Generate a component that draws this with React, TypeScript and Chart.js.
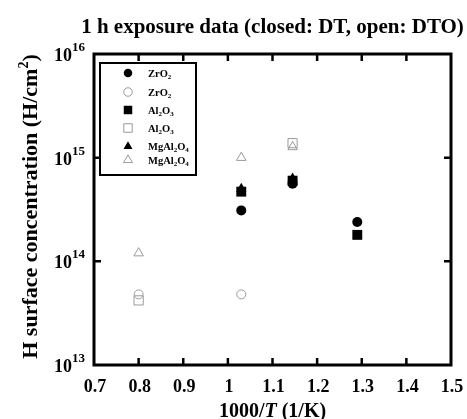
import React, { useEffect, useRef } from 'react';
import { Chart, registerables } from 'chart.js';

Chart.register(...registerables);

// ---- data ----
const legendLabels = ['ZrO2', 'ZrO2', 'Al2O3', 'Al2O3', 'MgAl2O4', 'MgAl2O4'];
const zrDT_x = [1.03, 1.145, 1.29];
const zrDT_y = [3.1e14, 5.6e14, 2.4e14];
const zrDTO_x = [0.8, 1.03];
const zrDTO_y = [4.8e13, 4.8e13];
const alDT_x = [1.03, 1.145, 1.29];
const alDT_y = [4.7e14, 6.0e14, 1.8e14];
const alDTO_x = [0.8, 1.145];
const alDTO_y = [4.2e13, 1.38e15];
const mgDT_x = [1.03, 1.145];
const mgDT_y = [5.0e14, 6.3e14];
const mgDTO_x = [0.8, 1.03, 1.145];
const mgDTO_y = [1.2e14, 1.0e15, 1.27e15];

const xTickValues = [0.7, 0.8, 0.9, 1.0, 1.1, 1.2, 1.3, 1.4, 1.5];
const xTickLabels = ['0.7', '0.8', '0.9', '1', '1.1', '1.2', '1.3', '1.4', '1.5'];
const yTickValues = [1e13, 1e14, 1e15, 1e16];
const yTickExps = ['13', '14', '15', '16'];

const titleText = '1 h exposure data (closed: DT, open: DTO)';

const SERIF = '"Liberation Serif", "Times New Roman", serif';
const OPEN = '#9a9a9a';

function pts(xs: number[], ys: number[]) {
  return xs.map((x, i) => ({ x, y: ys[i] }));
}

function splitSub(label: string) {
  const parts: [string, boolean][] = [];
  const re = /(\d+)|(\D+)/g;
  let m: RegExpExecArray | null;
  while ((m = re.exec(label))) {
    if (m[1]) parts.push([m[1], true]);
    else parts.push([m[2], false]);
  }
  return parts;
}

function drawMarker(ctx: CanvasRenderingContext2D, style: string, x: number, y: number, s: number, filled: boolean) {
  ctx.save();
  ctx.beginPath();
  if (style === 'circle') {
    ctx.arc(x, y, s / 2, 0, Math.PI * 2);
  } else if (style === 'rect') {
    ctx.rect(x - s / 2, y - s / 2, s, s);
  } else {
    const h = s * 0.866;
    ctx.moveTo(x, y - h * 0.6);
    ctx.lineTo(x + s / 2, y + h * 0.4);
    ctx.lineTo(x - s / 2, y + h * 0.4);
    ctx.closePath();
  }
  if (filled) {
    ctx.fillStyle = '#000';
    ctx.fill();
  } else {
    ctx.strokeStyle = OPEN;
    ctx.lineWidth = 1;
    ctx.stroke();
  }
  ctx.restore();
}

const framePlugin = {
  id: 'framePlugin',
  afterDraw(chart: any) {
    const ctx: CanvasRenderingContext2D = chart.ctx;
    const { left, right, top, bottom } = chart.chartArea;
    const xs = chart.scales.x;
    const ys = chart.scales.y;
    ctx.save();
    ctx.strokeStyle = '#000';
    ctx.fillStyle = '#000';

    // frame
    ctx.lineWidth = 3;
    ctx.strokeRect(left, top, right - left, bottom - top);

    // ticks
    ctx.lineWidth = 2.5;
    const tl = 7;
    xTickValues.forEach((v) => {
      const px = xs.getPixelForValue(v);
      if (Math.abs(px - left) < 2 || Math.abs(px - right) < 2) return;
      ctx.beginPath();
      ctx.moveTo(px, bottom);
      ctx.lineTo(px, bottom - tl);
      ctx.moveTo(px, top);
      ctx.lineTo(px, top + tl);
      ctx.stroke();
    });
    yTickValues.forEach((v) => {
      const py = ys.getPixelForValue(v);
      if (Math.abs(py - top) < 2 || Math.abs(py - bottom) < 2) return;
      ctx.beginPath();
      ctx.moveTo(left, py);
      ctx.lineTo(left + tl, py);
      ctx.moveTo(right, py);
      ctx.lineTo(right - tl, py);
      ctx.stroke();
    });

    // x tick labels
    ctx.font = `bold 18px ${SERIF}`;
    ctx.textAlign = 'center';
    ctx.textBaseline = 'alphabetic';
    xTickValues.forEach((v, i) => {
      const px = xs.getPixelForValue(v);
      ctx.fillText(xTickLabels[i], px + 1, bottom + 27);
    });

    // y tick labels 10^n
    yTickValues.forEach((v, i) => {
      const py = ys.getPixelForValue(v);
      ctx.font = `bold 18px ${SERIF}`;
      const bw = ctx.measureText('10').width;
      ctx.font = `bold 13px ${SERIF}`;
      const sw = ctx.measureText(yTickExps[i]).width;
      const rightEdge = left - 9;
      ctx.textAlign = 'left';
      ctx.font = `bold 18px ${SERIF}`;
      ctx.fillText('10', rightEdge - sw - bw, py + 7);
      ctx.font = `bold 13px ${SERIF}`;
      ctx.fillText(yTickExps[i], rightEdge - sw, py - 3);
    });

    // title
    ctx.font = `bold 21px ${SERIF}`;
    ctx.textAlign = 'center';
    ctx.fillText(titleText, (left + right) / 2, 33);

    // x title: 1000/T (1/K) with italic T
    {
      const segs: [string, string][] = [
        ['1000/', `bold 20px ${SERIF}`],
        ['T', `italic bold 20px ${SERIF}`],
        [' (1/K)', `bold 20px ${SERIF}`],
      ];
      let total = 0;
      segs.forEach(([t, f]) => { ctx.font = f; total += ctx.measureText(t).width; });
      let cx = (left + right) / 2 - total / 2;
      ctx.textAlign = 'left';
      segs.forEach(([t, f]) => {
        ctx.font = f;
        ctx.fillText(t, cx, 417);
        cx += ctx.measureText(t).width;
      });
    }

    // y title rotated
    {
      ctx.save();
      ctx.translate(37, (top + bottom) / 2 - 3);
      ctx.rotate(-Math.PI / 2);
      const main = 'H surface concentration (H/cm';
      ctx.font = `bold 22px ${SERIF}`;
      const mw = ctx.measureText(main).width;
      ctx.font = `bold 14px ${SERIF}`;
      const supw = ctx.measureText('2').width;
      ctx.font = `bold 22px ${SERIF}`;
      const cw = ctx.measureText(')').width;
      const total = mw + supw + cw;
      let cx = -total / 2;
      ctx.textAlign = 'left';
      ctx.fillText(main, cx, 0);
      cx += mw;
      ctx.font = `bold 14px ${SERIF}`;
      ctx.fillText('2', cx, -9);
      cx += supw;
      ctx.font = `bold 22px ${SERIF}`;
      ctx.fillText(')', cx, 0);
      ctx.restore();
    }

    // legend
    {
      const lx = left + 6;
      const ly = top + 9;
      const lw = 96;
      const lh = 112;
      ctx.lineWidth = 2;
      ctx.strokeRect(lx, ly, lw, lh);
      const rowY = [73, 92, 110, 128, 146, 159.5];
      chart.data.datasets.forEach((ds: any, i: number) => {
        const y = rowY[i];
        const style = ds.pointStyle;
        const filled = ds.backgroundColor === '#000';
        drawMarker(ctx, style, 128, y, style === 'triangle' ? 9 : 8.5, filled);
        const segs = splitSub(legendLabels[i]);
        let cx = 148;
        ctx.textAlign = 'left';
        ctx.fillStyle = '#000';
        segs.forEach(([t, sub]) => {
          ctx.font = sub ? `bold 7px ${SERIF}` : `bold 10.5px ${SERIF}`;
          ctx.fillText(t, cx, sub ? y + 6 : y + 4);
          cx += ctx.measureText(t).width;
        });
      });
    }
    ctx.restore();
  },
};

export default function App() {
  const ref = useRef<HTMLCanvasElement | null>(null);
  useEffect(() => {
    document.body.style.margin = '0';
    document.body.style.overflow = 'hidden';
    const canvas = ref.current!;
    const filled = (style: string, r: number) => ({
      pointStyle: style,
      pointRadius: r,
      backgroundColor: '#000',
      borderColor: '#000',
      borderWidth: 0,
    });
    const open = (style: string, r: number) => ({
      pointStyle: style,
      pointRadius: r,
      backgroundColor: 'rgba(255,255,255,0)',
      borderColor: OPEN,
      borderWidth: 1,
    });
    const chart = new Chart(canvas, {
      type: 'scatter',
      data: {
        datasets: [
          { label: legendLabels[0], data: pts(zrDT_x, zrDT_y), ...filled('circle', 5) },
          { label: legendLabels[1], data: pts(zrDTO_x, zrDTO_y), ...open('circle', 4.5) },
          { label: legendLabels[2], data: pts(alDT_x, alDT_y), ...filled('rect', 7) },
          { label: legendLabels[3], data: pts(alDTO_x, alDTO_y), ...open('rect', 6.5) },
          { label: legendLabels[4], data: pts(mgDT_x, mgDT_y), ...filled('triangle', 6) },
          { label: legendLabels[5], data: pts(mgDTO_x, mgDTO_y), ...open('triangle', 5.5) },
        ],
      },
      options: {
        responsive: false,
        animation: false,
        layout: { padding: { left: 94, right: 16, top: 54, bottom: 54 } },
        plugins: {
          legend: { display: false },
          title: { display: false },
          tooltip: { enabled: false },
        },
        scales: {
          x: { type: 'linear', min: 0.7, max: 1.5, display: false },
          y: { type: 'logarithmic', min: 1e13, max: 1e16, display: false },
        },
      },
      plugins: [framePlugin],
    });
    return () => chart.destroy();
  }, []);
  return <canvas ref={ref} width={467} height={419} style={{ display: 'block' }} />;
}
